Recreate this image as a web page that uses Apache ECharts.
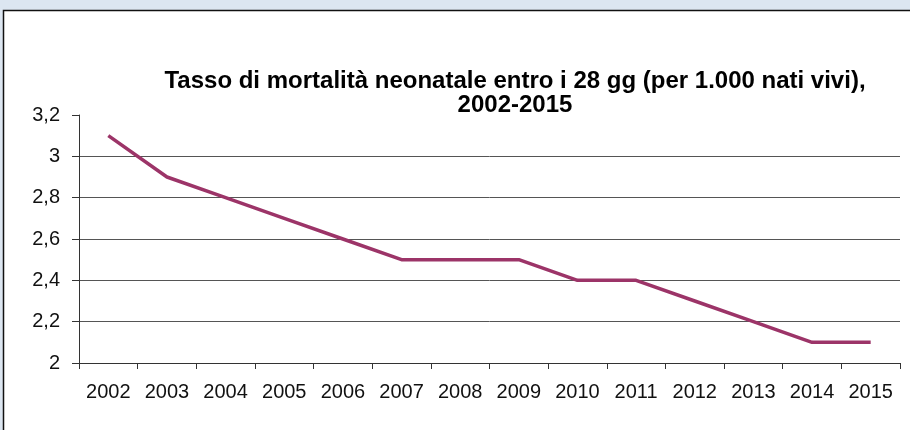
<!DOCTYPE html>
<html><head><meta charset="utf-8">
<script src="https://cdn.jsdelivr.net/npm/echarts@6/dist/echarts.min.js"></script>
<style>html,body{margin:0;padding:0;background:#dce6f1}#c{width:910px;height:430px}</style>
</head><body><div id="c"></div>
<script>
const years = ['2002','2003','2004','2005','2006','2007','2008','2009','2010','2011','2012','2013','2014','2015'];
const rates = [3.1, 2.9, 2.8, 2.7, 2.6, 2.5, 2.5, 2.5, 2.4, 2.4, 2.3, 2.2, 2.1, 2.1];
const titleText = 'Tasso di mortalità neonatale entro i 28 gg (per 1.000 nati vivi),\n2002-2015';
const yMin = 2, yMax = 3.2, yStep = 0.2;

const font = '"Liberation Sans", Arial, sans-serif';
const chart = echarts.init(document.getElementById('c'), null, {renderer:'canvas'});
chart.setOption({
  backgroundColor: '#dce6f1',
  animation: false,
  graphic: [{
    type: 'rect', z: -10,
    shape: {x: 3.5, y: 10.5, width: 920, height: 430},
    style: {fill: '#ffffff', stroke: '#111111', lineWidth: 1.5}
  }],
  title: {
    text: titleText,
    left: 510, top: 64, textAlign: 'center',
    textStyle: {fontFamily: font, fontSize: 24, fontWeight: 'bold', color: '#000', lineHeight: 24}
  },
  grid: {left: 79, right: 10, top: 115, bottom: 67, containLabel: false},
  xAxis: {
    type: 'category', data: years, boundaryGap: true,
    axisLine: {lineStyle: {color: '#333', width: 1}},
    axisTick: {show: true, length: 6, lineStyle: {color: '#333'}, alignWithLabel: false},
    axisLabel: {fontFamily: font, fontSize: 20, color: '#111', margin: 19, interval: 0}
  },
  yAxis: {
    type: 'value', min: yMin, max: yMax, interval: yStep,
    axisLine: {show: true, lineStyle: {color: '#333', width: 1}},
    axisTick: {show: true, length: 7, lineStyle: {color: '#333'}},
    axisLabel: {fontFamily: font, fontSize: 20, color: '#111', margin: 19,
      formatter: v => String(Math.round(v*10)/10).replace('.', ',')},
    splitLine: {show: true, showMaxLine: false, lineStyle: {color: '#555', width: 1}}
  },
  series: [{
    type: 'line', data: rates, symbol: 'none',
    lineStyle: {color: '#9c3468', width: 3.5}
  }]
});
</script></body></html>
